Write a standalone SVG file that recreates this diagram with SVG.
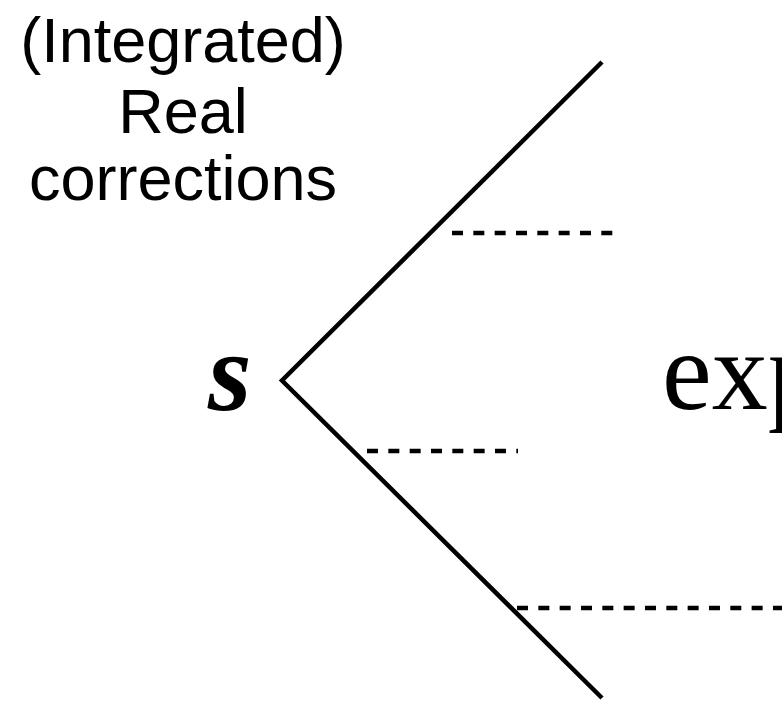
<svg xmlns="http://www.w3.org/2000/svg" width="782" height="701" viewBox="0 0 782 701">
<style>
.sans{font-family:"Liberation Sans",Arial,sans-serif;font-size:63px;fill:#000;text-anchor:middle}
.serif{font-family:"Liberation Serif","Times New Roman",serif;fill:#000}
.solid{stroke:#000;stroke-width:4.5;fill:none}
.dash{stroke:#000;stroke-width:4.5;fill:none;stroke-dasharray:11 10.33}
</style>
<rect width="782" height="701" fill="#fff"/>
<g id="label">
<text class="sans" x="183" y="62">(Integrated)</text>
<text class="sans" x="183" y="133">Real</text>
<text class="sans" x="183" y="200">corrections</text>
</g>
<g id="s-label"><text class="serif" x="208" y="410" font-size="112" font-style="italic" font-weight="bold">s</text></g>
<g id="exp-label"><text class="serif" x="662" y="409" font-size="112">exp</text></g>
<g id="connectors">
<polyline class="solid" points="602,62 282,380.5 602,698"/>
<line class="dash" x1="452" y1="233" x2="613" y2="233"/>
<line class="dash" x1="367" y1="451" x2="518" y2="451"/>
<line class="dash" x1="517" y1="608" x2="782" y2="608"/>
</g>
</svg>
